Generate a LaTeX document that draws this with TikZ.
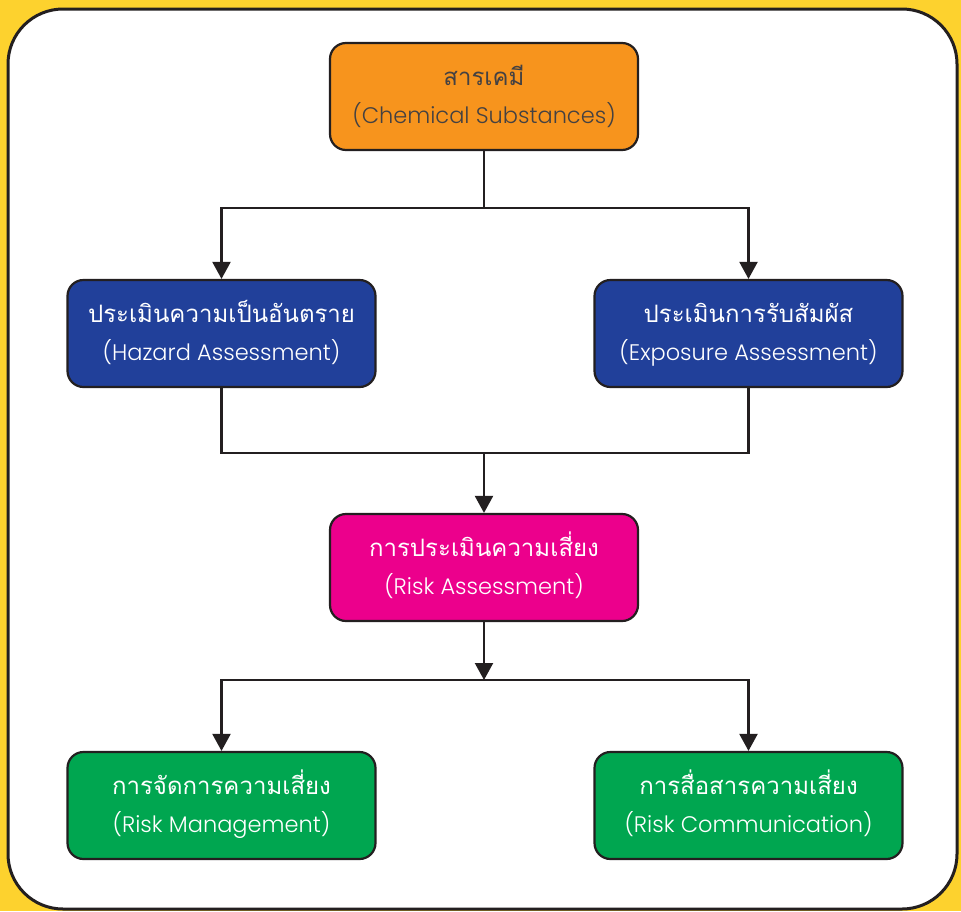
\documentclass[tikz,border=0pt]{standalone}
\usepackage{fontspec}
\setmainfont[Script=Thai]{Loma}
\newfontfamily\latinfont{Poppins}[UprightFont=* Light]
\usetikzlibrary{arrows.meta}
\definecolor{bgyellow}{HTML}{FDD22E}
\definecolor{frameline}{HTML}{231F20}
\definecolor{orangefill}{HTML}{F7941D}
\definecolor{bluefill}{HTML}{21409A}
\definecolor{pinkfill}{HTML}{EC008C}
\definecolor{greenfill}{HTML}{00A650}
\newcommand{\twolines}[2]{\fontsize{24}{38}\selectfont\raisebox{2.5pt}{\begin{tabular}{@{}c@{}}\fontsize{24}{38}\selectfont #1\\\latinfont\fontsize{22.5}{38}\selectfont #2\end{tabular}}}
\tikzset{
  x=1pt, y=-1pt,
  box/.style={draw=frameline, line width=2.2pt, rounded corners=16pt,
    minimum width=308pt, minimum height=107pt, align=center, inner sep=0pt},
  conn/.style={draw=frameline, line width=2.2pt},
  arr/.style={conn, -{Triangle[length=17pt,width=18pt]}},
}
\begin{document}
\begin{tikzpicture}
\useasboundingbox (0,0) rectangle (961,911);
\fill[bgyellow] (0,0) rectangle (961,911);
\draw[draw=frameline, fill=white, line width=3pt, rounded corners=55pt] (8,9) rectangle (957,909);

\node[box, fill=orangefill, text=frameline!85] (chem) at (484,96.5) {\twolines{สารเคมี}{(Chemical Substances)}};
\node[box, fill=bluefill, text=white] (haz) at (221.5,333.5) {\twolines{ประเมินความเป็นอันตราย}{(Hazard Assessment)}};
\node[box, fill=bluefill, text=white] (exp) at (748.5,333.5) {\twolines{ประเมินการรับสัมผัส}{(Exposure Assessment)}};
\node[box, fill=pinkfill, text=white] (risk) at (484,567.5) {\twolines{การประเมินความเสี่ยง}{(Risk Assessment)}};
\node[box, fill=greenfill, text=white] (mgmt) at (221.5,805.5) {\twolines{การจัดการความเสี่ยง}{(Risk Management)}};
\node[box, fill=greenfill, text=white] (comm) at (748.5,805.5) {\twolines{การสื่อสารความเสี่ยง}{(Risk Communication)}};

\coordinate (j1) at (484,208);
\coordinate (j2) at (484,453);
\coordinate (j3) at (484,680);

\draw[conn] (chem.south) -- (j1);
\draw[arr] (j1) -| (haz.north);
\draw[arr] (j1) -| (exp.north);
\draw[conn] (haz.south) |- (j2) -| (exp.south);
\draw[arr] (j2) -- (risk.north);
\draw[arr] (risk.south) -- (j3);
\draw[arr] (j3) -| (mgmt.north);
\draw[arr] (j3) -| (comm.north);
\end{tikzpicture}
\end{document}
